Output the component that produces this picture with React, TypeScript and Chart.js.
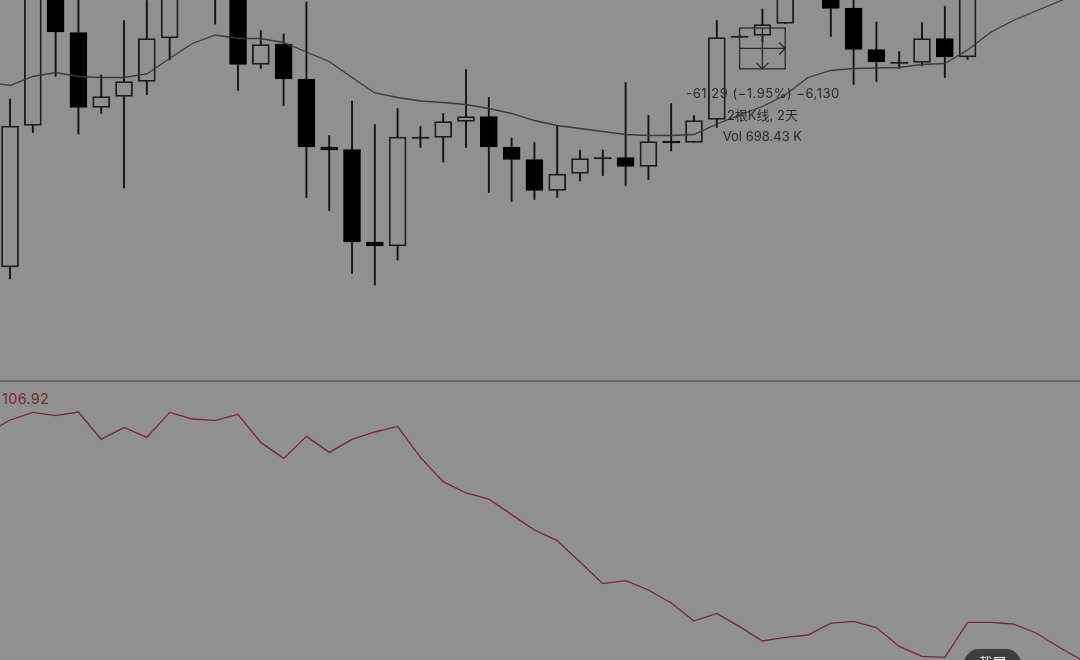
import React, { useEffect, useRef } from "react";
import { Chart, registerables } from "chart.js";

Chart.register(...registerables);

// Candle index along the x axis, then prices
const opens = [2784.5, 2996.75, 3200, 3136.25, 3023.75, 3040.25, 3062.75, 3128, 3230, 3245, 3215, 3088.25, 3119, 3066.5, 2964.5, 2960.75, 2822, 2816, 2979.5, 2978.75, 3002.75, 3010.25, 2964.5, 2945.75, 2899.25, 2924.75, 2948.75, 2948.75, 2935.25, 2973.5, 2971.25, 3005.75, 3131, 3131.75, 3149.75, 3215, 3192.5, 3173, 3110.75, 3092, 3091.25, 3127.25, 3099.5];
const closes = [2996, 3215, 3137, 3023.75, 3040.25, 3062.75, 3127.25, 3207.5, 3290, 3200, 3088.25, 3118.25, 3066.5, 2964.5, 2960, 2822, 2816, 2979.5, 2977.25, 3002.75, 3010.25, 2964.5, 2945.75, 2899.25, 2924, 2947.25, 2946.5, 2935.25, 2972.75, 2970.5, 3004.25, 3128.75, 3128.75, 3148.25, 3215, 3260, 3172.25, 3110.75, 3092, 3089.75, 3127.25, 3099.5, 3215];
const highs = [3036.5, 3245, 3230, 3200, 3072.5, 3154.25, 3184.25, 3230, 3320, 3275, 3237.5, 3139.25, 3134, 3182, 2981.75, 3033.5, 2998.25, 3022.25, 2995.25, 3014.75, 3080.75, 3038.75, 2978, 2971.25, 2996, 2960, 2960, 3061.25, 3011.75, 3029.75, 3011.75, 3154.25, 3132.5, 3171.5, 3237.5, 3282.5, 3215, 3192.5, 3152, 3107.75, 3151.25, 3175.25, 3237.5];
const lows = [2766.5, 2986.25, 3070.25, 2984, 3014.75, 2903, 3043.25, 3095, 3200, 3149, 3049.25, 3082.25, 3026.75, 2888.75, 2869.25, 2774.75, 2757.5, 2795, 2963.75, 2942, 2963.75, 2896.25, 2882.75, 2885.75, 2888.75, 2913.5, 2921.75, 2906.75, 2915.75, 2958.5, 2971.25, 2993.75, 3128, 3122, 3149.75, 3192.5, 3130.25, 3058.25, 3062.75, 3082.25, 3086, 3068.75, 3095.75];

// Line series start one step before the first candle (index -1)
const maValues = [3062, 3056.75, 3070.25, 3076.25, 3070.25, 3068.75, 3068.75, 3074, 3097.25, 3119.75, 3132.5, 3127.25, 3127.25, 3121.25, 3107, 3092.75, 3068.75, 3045.5, 3038.75, 3033.5, 3031.25, 3028.25, 3022.25, 3014.75, 3004.25, 2996.75, 2992.25, 2987.75, 2983.25, 2981.75, 2981.75, 2983.25, 2999, 3012.5, 3025.25, 3042.5, 3068.75, 3079.25, 3082.25, 3083, 3083.75, 3088.25, 3089.75, 3110, 3136.25, 3154.25, 3168.5, 3182.75, 3197];
const indicatorValues = [108.35, 109, 109.38, 109.22, 109.4, 108.03, 108.63, 108.13, 109.38, 109.05, 108.98, 109.28, 107.88, 107.08, 108.18, 107.38, 108.03, 108.4, 108.68, 107.13, 105.92, 105.35, 105.05, 104.27, 103.5, 102.97, 101.9, 100.82, 100.97, 100.5, 99.85, 98.95, 99.33, 98.67, 97.95, 98.13, 98.25, 98.84, 98.93, 98.62, 97.68, 97.18, 97.13, 98.88, 98.88, 98.8, 98.35, 97.65, 97];

const indicatorLabel = "106.92";
const measureLines = ["-61.29 (−1.95%) −6,130", "2根K线, 2天", "Vol 698.43 K"];
const measureFrom = 32;
const measureTo = 34;
const measureHigh = 3143;
const measureLow = 3081.71;
const buttonLabel = "截屏";

const BG = "#909090";
const INK = "#111111";
const UI_FONT = '"Inter", "Noto Sans CJK SC", sans-serif';

const overlay = {
  id: "overlay",
  beforeDraw(chart: any) {
    const { ctx, width, height } = chart;
    ctx.save();
    ctx.fillStyle = BG;
    ctx.fillRect(0, 0, width, height);
    ctx.restore();
  },
  afterDraw(chart: any) {
    const { ctx, scales } = chart;
    const { x, y } = scales;
    ctx.save();

    // pane separator
    ctx.strokeStyle = "#454545";
    ctx.lineWidth = 1;
    ctx.beginPath();
    ctx.moveTo(0, 381);
    ctx.lineTo(1080, 381);
    ctx.stroke();

    // indicator value
    ctx.font = '14.5px "Inter", sans-serif';
    ctx.letterSpacing = "0.3px";
    ctx.fillStyle = "#6f2a33";
    ctx.textBaseline = "middle";
    ctx.textAlign = "left";
    ctx.fillText(indicatorLabel, 2, 399.5);

    // measure tool
    const l = x.getPixelForValue(measureFrom);
    const r = x.getPixelForValue(measureTo);
    const t = y.getPixelForValue(measureHigh);
    const b = y.getPixelForValue(measureLow);
    const mx = (l + r) / 2;
    const my = (t + b) / 2;
    ctx.strokeStyle = "#2b2b2b";
    ctx.lineWidth = 1.3;
    ctx.strokeRect(l, t, r - l, b - t);
    ctx.beginPath();
    ctx.moveTo(l, my);
    ctx.lineTo(r, my);
    ctx.moveTo(r - 6, my - 6);
    ctx.lineTo(r, my);
    ctx.lineTo(r - 6, my + 6);
    ctx.moveTo(mx, t);
    ctx.lineTo(mx, b);
    ctx.moveTo(mx - 6, b - 6);
    ctx.lineTo(mx, b);
    ctx.lineTo(mx + 6, b - 6);
    ctx.stroke();

    ctx.fillStyle = "#2a2a2a";
    ctx.textAlign = "center";
    ctx.font = `13px ${UI_FONT}`;
    ctx.letterSpacing = "0.5px";
    ctx.fillText(measureLines[0], mx + 0.5, 94.5);
    ctx.letterSpacing = "0px";
    ctx.fillText(measureLines[1], mx, 116);
    ctx.fillText(measureLines[2], mx, 137.5);

    // screenshot button, cut by the bottom edge
    ctx.fillStyle = "#3e3e3e";
    ctx.beginPath();
    ctx.roundRect(964, 649, 57, 30, 15);
    ctx.fill();
    ctx.fillStyle = "#f2f2f2";
    ctx.font = '14px "Noto Sans CJK SC", sans-serif';
    ctx.fillText(buttonLabel, 992.5, 663);
    ctx.restore();
  },
};

export default function App() {
  const ref = useRef<HTMLCanvasElement | null>(null);

  useEffect(() => {
    document.body.style.margin = "0";
    document.body.style.background = BG;
    const isUp = opens.map((o, i) => closes[i] >= o);
    const chart = new Chart(ref.current as HTMLCanvasElement, {
      type: "bar",
      data: {
        datasets: [
          {
            type: "bar",
            label: "Wicks",
            data: highs.map((h, i) => ({ x: i, y: [lows[i], h] })),
            backgroundColor: INK,
            borderWidth: 0,
            barThickness: 1.2,
            grouped: false,
            order: 4,
            yAxisID: "y",
          },
          {
            type: "bar",
            label: "Bodies",
            data: opens.map((o, i) => ({ x: i, y: [o, closes[i]] })),
            backgroundColor: isUp.map((u) => (u ? BG : "#000000")),
            borderColor: isUp.map((u) => (u ? "#1c1c1c" : "#000000")),
            borderWidth: 1.8,
            borderSkipped: false,
            barThickness: 17,
            grouped: false,
            order: 3,
            yAxisID: "y",
          },
          {
            type: "line",
            label: "MA",
            data: maValues.map((v, i) => ({ x: i - 1, y: v })),
            borderColor: "#3a3a3a",
            borderWidth: 1.3,
            pointRadius: 0,
            tension: 0,
            order: 2,
            yAxisID: "y",
          },
          {
            type: "line",
            label: "Indicator",
            data: indicatorValues.map((v, i) => ({ x: i - 1, y: v })),
            borderColor: "#6f2a33",
            borderWidth: 1.3,
            pointRadius: 0,
            tension: 0,
            order: 1,
            yAxisID: "y2",
          },
        ],
      } as any,
      options: {
        animation: false,
        responsive: false,
        maintainAspectRatio: false,
        layout: { padding: 0 },
        plugins: { legend: { display: false }, tooltip: { enabled: false } },
        scales: {
          x: { type: "linear", display: false, offset: false, min: -0.44, max: 46.93, grid: { display: false } },
          y: { type: "linear", display: false, min: 2195, max: 3185, grid: { display: false } },
          y2: { type: "linear", display: false, min: 97, max: 130, grid: { display: false } },
        },
      } as any,
      plugins: [overlay],
    });
    return () => chart.destroy();
  }, []);

  return <canvas ref={ref} width={1080} height={660} style={{ display: "block", width: 1080, height: 660 }} />;
}
